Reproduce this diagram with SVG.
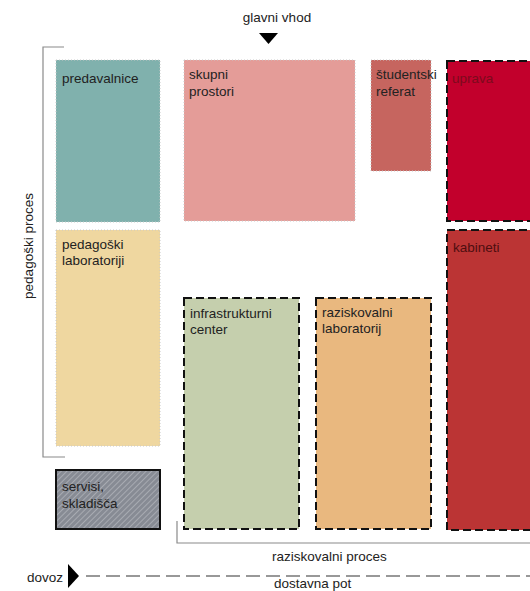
<svg xmlns="http://www.w3.org/2000/svg" width="530" height="591" viewBox="0 0 530 591">
<style>
text{font-family:"Liberation Sans",Arial,sans-serif;font-size:13.5px;fill:#222}
.soft{stroke:#c8c8c8;stroke-width:1;stroke-dasharray:1 2}
.dash{stroke:#111;stroke-width:2;stroke-dasharray:8 4}
.br{fill:none;stroke:#8a8a8a;stroke-width:1.2}
</style>
<defs>
<pattern id="hatch" width="4" height="4" patternUnits="userSpaceOnUse" patternTransform="rotate(45)">
<rect width="4" height="4" fill="#878b94"/>
<line x1="0" y1="0" x2="0" y2="4" stroke="#b2b5bb" stroke-width="1.5"/>
</pattern>
</defs>
<rect width="530" height="591" fill="#fff"/>
<g id="connectors">
<path class="br" d="M64,47 H43 V457 H65"/>
<path class="br" d="M177,521 V543 H530"/>
<polygon points="259,33 278,33 268.5,44" fill="#000"/>
<polygon points="68,564 79,576 68,588" fill="#000"/>
<line x1="86" y1="576" x2="530" y2="576" stroke="#333" stroke-width="1.2" stroke-dasharray="14 6"/>
</g>
<g id="labels">
<text x="277" y="22" text-anchor="middle">glavni vhod</text>
<text transform="translate(33,246) rotate(-90)" text-anchor="middle">pedagoški proces</text>
<text x="272" y="561">raziskovalni proces</text>
<text x="27" y="582">dovoz</text>
<text x="274" y="587.5">dostavna pot</text>
</g>
<g id="predavalnice">
<rect x="56" y="60" width="104" height="162" fill="#80b1ad" class="soft"/>
<text x="62" y="83">predavalnice</text>
</g>
<g id="skupni-prostori">
<rect x="184" y="60" width="171" height="161" fill="#e49c98" class="soft"/>
<text x="189" y="79">skupni</text>
<text x="189" y="96">prostori</text>
</g>
<g id="studentski-referat">
<rect x="371" y="60" width="60" height="111" fill="#c6655f" class="soft"/>
<text x="376" y="79">študentski</text>
<text x="376" y="96">referat</text>
</g>
<g id="uprava">
<rect x="447" y="61" width="90" height="160" fill="#c2002c" class="dash"/>
<text x="452" y="83" style="fill:#7c0a1c">uprava</text>
</g>
<g id="kabineti">
<rect x="447" y="230" width="90" height="300" fill="#bb3434" class="dash"/>
<text x="453" y="252" style="fill:#4e0e10">kabineti</text>
</g>
<g id="pedagoski-laboratoriji">
<rect x="56" y="230" width="104" height="216" fill="#efd7a0" class="soft"/>
<text x="62" y="249">pedagoški</text>
<text x="62" y="265">laboratoriji</text>
</g>
<g id="infrastrukturni-center">
<rect x="184" y="298" width="115" height="231" fill="#c5cfad" class="dash"/>
<text x="190" y="318">infrastrukturni</text>
<text x="190" y="334">center</text>
</g>
<g id="raziskovalni-laboratorij">
<rect x="316" y="298" width="115" height="231" fill="#e9b87f" class="dash"/>
<text x="322" y="317">raziskovalni</text>
<text x="322" y="333">laboratorij</text>
</g>
<g id="servisi-skladisca">
<rect x="56" y="470" width="104" height="59" fill="url(#hatch)" stroke="#111" stroke-width="2"/>
<text x="62" y="491">servisi,</text>
<text x="62" y="508">skladišča</text>
</g>
</svg>
